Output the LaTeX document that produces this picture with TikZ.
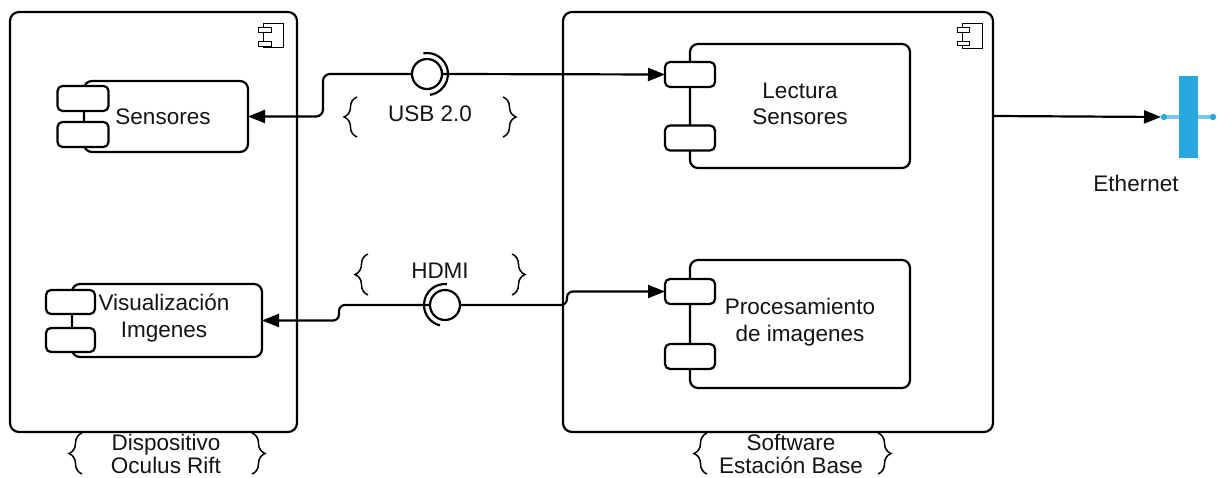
\documentclass[tikz,border=0pt]{standalone}
\usepackage{fontspec}
\setmainfont{Liberation Sans}
\usetikzlibrary{arrows.meta,decorations.pathreplacing,calc}
\definecolor{ethblue}{RGB}{41,168,224}
\definecolor{ethlight}{RGB}{124,198,236}
\definecolor{txt}{RGB}{20,20,20}
\begin{document}
\begin{tikzpicture}[x=1pt,y=-1pt,
  every node/.style={font=\fontsize{22.5}{26.5}\selectfont, text=txt, align=center, inner sep=0pt, outer sep=0pt},
  bigbox/.style={draw, line width=2.2pt, rounded corners=9pt},
  comp/.style={draw, line width=2.2pt, rounded corners=8pt, fill=white},
  tabbox/.style={draw, line width=2.2pt, rounded corners=5pt, fill=white, minimum width=50pt, minimum height=25pt},
  iconbox/.style={draw, line width=1pt, fill=white},
  wire/.style={line width=2.2pt, line join=round},
  conn/.style={line width=2.2pt, line join=round, -{Triangle[length=17pt,width=13pt]}},
  brc/.style={decorate, decoration={brace, amplitude=13pt}, line width=1.5pt},
  lolli/.style={draw, circle, line width=2.2pt, fill=white, minimum size=30pt},
]
\useasboundingbox (0,0) rectangle (1219,478);

% big boxes
\node[bigbox, minimum width=287pt, minimum height=420pt] (lbox) at (153.5,222) {};
\node[bigbox, minimum width=430pt, minimum height=420pt] (rbox) at (778,222) {};

% component icons
\draw[iconbox] (263,24) rectangle (283,48);
\draw[iconbox] (258,28) rectangle (271,33);
\draw[iconbox] (258,42) rectangle (271,47);
\draw[iconbox] (962,24) rectangle (982,49);
\draw[iconbox] (957,28) rectangle (969,33);
\draw[iconbox] (957,42) rectangle (969,46);

% left components
\node[comp, minimum width=164pt, minimum height=71pt] (sens) at (166,116.5) {\hspace*{-6pt}Sensores};
\node[tabbox, minimum width=51pt] (stab1) at (83,98.5) {};
\node[tabbox, minimum width=51pt] (stab2) at (83,134.5) {};

\node[comp, minimum width=190pt, minimum height=73pt] (vis) at (167,320.5) {};
\node[tabbox, minimum width=49pt, minimum height=24pt] (vtab1) at (70.5,302) {};
\node[tabbox, minimum width=49pt, minimum height=24pt] (vtab2) at (70.5,340) {};
\node (vistxt) at (164,318) {Visualización\\Imgenes};

% right components
\node[comp, minimum width=220pt, minimum height=124pt] (lect) at (800,106) {};
\node (lecttxt) at (800,104) {Lectura\\Sensores};
\node[tabbox] (ltab1) at (690,74.5) {};
\node[tabbox] (ltab2) at (690,138) {};

\node[comp, minimum width=220pt, minimum height=128pt] (proc) at (800,324) {};
\node (proctxt) at (800,322) {Procesamiento\\de imagenes};
\node[tabbox] (ptab1) at (690,291.5) {};
\node[tabbox] (ptab2) at (690,356.5) {};

% USB interface
\node[lolli] (usbI) at (427,74) {};
\draw[wire] (usbI.center) ++(-100:21) arc[start angle=-100, end angle=82, radius=21];
\draw[conn] (usbI.east) -- (ltab1.west);
\draw[conn, rounded corners=7pt] (usbI.west) -- (323,74) |- (sens.east);
\node (usbtxt) at (430,114) {USB 2.0};
\draw[brc] (357,137) -- (357,97);
\draw[brc] (503,97) -- (503,137);

% HDMI interface
\node[lolli] (hdmiI) at (445,305) {};
\draw[wire] (hdmiI.center) ++(-85:21) arc[start angle=-85, end angle=-256, radius=21];
\draw[conn, rounded corners=6pt] (hdmiI.east) -- (567,305) |- (ptab1.west);
\draw[conn, rounded corners=6pt] (hdmiI.west) -- (339,305) |- (vis.east);
\node (hdmitxt) at (440,271) {HDMI};
\draw[brc] (368,295) -- (368,254);
\draw[brc] (512,254) -- (512,295);

% Ethernet
\coordinate (ethS) at (993,116);
\node[minimum width=19pt, minimum height=82pt, fill=ethblue] (eth) at (1188.5,117) {};
\node[circle, fill=ethblue, minimum size=6pt] (edot1) at (1164,117) {};
\node[circle, fill=ethblue, minimum size=6pt] (edot2) at (1213,117) {};
\draw[line width=4pt, ethlight] (edot1.center) -- (eth.west);
\draw[line width=4pt, ethlight] (eth.east) -- (edot2.center);
\node[circle, fill=ethblue, minimum size=6pt] at (edot1) {};
\node[circle, fill=ethblue, minimum size=6pt] at (edot2) {};
\draw[conn] (ethS) -- (edot1.west);
\node (ethtxt) at (1136,183) {Ethernet};

% bottom labels
\node[font=\fontsize{22.5}{23}\selectfont] (ltxt) at (166,453.5) {Dispositivo\\Oculus Rift};
\draw[brc] (82,474) -- (82,433);
\draw[brc] (252,433) -- (252,474);
\node[font=\fontsize{22.5}{23}\selectfont] (rtxt) at (791,453.5) {Software\\Estación Base};
\draw[brc] (707,474) -- (707,433);
\draw[brc] (878,433) -- (878,474);
\end{tikzpicture}
\end{document}
